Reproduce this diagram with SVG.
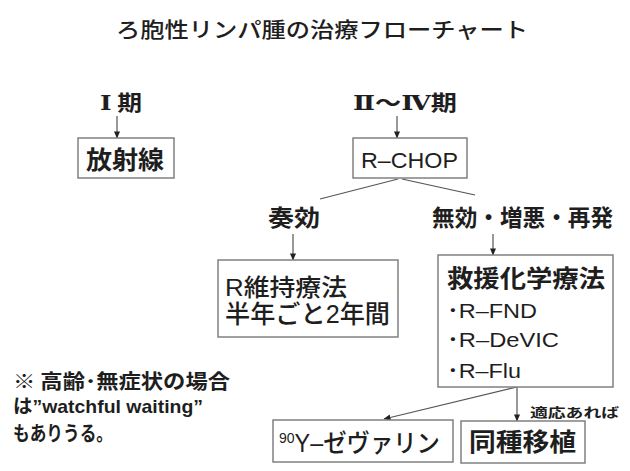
<svg xmlns="http://www.w3.org/2000/svg" width="630" height="471" viewBox="0 0 630 471">
<style>
text{font-family:"Liberation Sans","Noto Sans CJK JP",sans-serif;fill:#1e1e1e}
.j{font-family:"Noto Sans CJK JP",sans-serif}
.m{font-weight:500}
.b{font-weight:bold}
.rn{font-family:"DejaVu Serif","Liberation Serif","Noto Sans CJK JP",serif;font-weight:bold}
.box{fill:#fff;stroke:#808080;stroke-width:1.5}
.ln{stroke:#555;stroke-width:1.2;fill:none}
.ar{stroke:#555;stroke-width:1.2;fill:none;marker-end:url(#ah)}
</style>
<defs>
<marker id="ah" viewBox="0 0 8 8" refX="7.5" refY="4" markerWidth="7" markerHeight="7" markerUnits="userSpaceOnUse" orient="auto">
<path d="M0,0.5 L8,4 L0,7.5 z" fill="#222"/>
</marker>
</defs>
<rect width="630" height="471" fill="#fff"/>
<g id="title"><text class="j m" x="116" y="37" font-size="21" textLength="412" lengthAdjust="spacingAndGlyphs">ろ胞性リンパ腫の治療フローチャート</text></g>

<g id="connectors">
<line class="ar" x1="117" y1="116" x2="117" y2="138"/>
<line class="ar" x1="397" y1="116" x2="397" y2="138"/>
<line class="ln" x1="398" y1="179" x2="320" y2="199"/>
<line class="ln" x1="402" y1="179" x2="475" y2="195"/>
<line class="ar" x1="293" y1="234" x2="293" y2="260"/>
<line class="ar" x1="493" y1="234" x2="493" y2="255"/>
<line class="ar" x1="517" y1="387" x2="384" y2="419"/>
<line class="ar" x1="517" y1="387" x2="517" y2="421"/>
</g>

<g id="stage1"><text class="j b" x="100" y="110" font-size="21" textLength="42" lengthAdjust="spacingAndGlyphs"><tspan class="rn">Ⅰ</tspan> 期</text></g>
<g id="stage2"><text class="j b" x="353" y="110" font-size="21" textLength="104" lengthAdjust="spacingAndGlyphs"><tspan class="rn">Ⅱ</tspan>～<tspan class="rn">Ⅳ</tspan>期</text></g>

<g id="radiation">
<rect class="box" x="78" y="138" width="96" height="40"/>
<text class="j b" x="86" y="169" font-size="25" textLength="78" lengthAdjust="spacingAndGlyphs">放射線</text>
</g>
<g id="rchop">
<rect class="box" x="353" y="138" width="114" height="40"/>
<text x="361" y="168" font-size="22" textLength="97" lengthAdjust="spacingAndGlyphs">R‒CHOP</text>
</g>

<g id="response"><text class="j b" x="268" y="226" font-size="23" textLength="52" lengthAdjust="spacingAndGlyphs">奏効</text></g>
<g id="failure"><text class="j b" x="432" y="226" font-size="23" textLength="181" lengthAdjust="spacingAndGlyphs">無効・増悪・再発</text></g>

<g id="maintenance">
<rect class="box" x="218" y="260" width="180" height="77"/>
<text class="m" x="225" y="296" font-size="24" textLength="122" lengthAdjust="spacingAndGlyphs">R維持療法</text>
<text class="m" x="225" y="323" font-size="25" textLength="165" lengthAdjust="spacingAndGlyphs">半年ごと2年間</text>
</g>

<g id="salvage">
<rect class="box" x="438" y="255" width="175" height="132"/>
<text class="j b" x="447" y="287" font-size="24" textLength="158" lengthAdjust="spacingAndGlyphs">救援化学療法</text>
<text class="m" x="447" y="318" font-size="21" textLength="90" lengthAdjust="spacingAndGlyphs">･R‒FND</text>
<text class="m" x="447" y="347" font-size="21" textLength="112" lengthAdjust="spacingAndGlyphs">･R‒DeVIC</text>
<text class="m" x="447" y="378" font-size="21" textLength="74" lengthAdjust="spacingAndGlyphs">･R‒Flu</text>
</g>

<g id="label-indication"><text class="j b" x="530" y="417" font-size="13" textLength="89" lengthAdjust="spacingAndGlyphs">適応あれば</text></g>

<g id="zevalin">
<rect class="box" x="273" y="420" width="180" height="42"/>
<text class="m" x="279" y="452" font-size="25" textLength="161" lengthAdjust="spacingAndGlyphs"><tspan font-size="15" dy="-9">90</tspan><tspan dy="9">Y‒ゼヴァリン</tspan></text>
</g>
<g id="allo">
<rect class="box" x="461" y="421" width="124" height="42"/>
<text class="j b" x="469" y="451" font-size="25" textLength="107" lengthAdjust="spacingAndGlyphs">同種移植</text>
</g>

<g id="note">
<text class="j b" x="13" y="389" font-size="20" textLength="217" lengthAdjust="spacingAndGlyphs">※ 高齢･無症状の場合</text>
<text class="b" x="13" y="413" font-size="19" textLength="190" lengthAdjust="spacingAndGlyphs">は”watchful waiting”</text>
<text class="j b" x="13" y="441" font-size="20" textLength="100" lengthAdjust="spacingAndGlyphs">もありうる。</text>
</g>
</svg>
